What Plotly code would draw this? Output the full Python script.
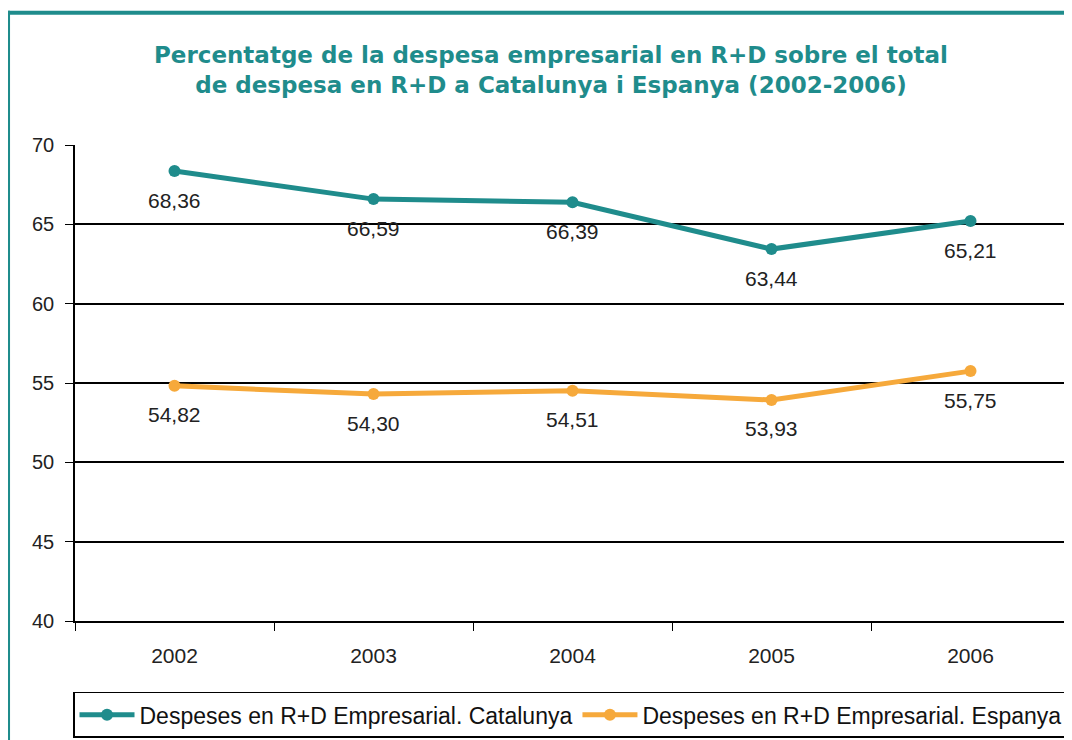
import plotly.graph_objects as go

years = ["2002", "2003", "2004", "2005", "2006"]
catalunya = [68.36, 66.59, 66.39, 63.44, 65.21]
espanya = [54.82, 54.30, 54.51, 53.93, 55.75]
name_cat = "Despeses en R+D Empresarial. Catalunya"
name_esp = "Despeses en R+D Empresarial. Espanya"
title_text = "Percentatge de la despesa empresarial en R+D sobre el total<br>de despesa en R+D a Catalunya i Espanya (2002-2006)"
yticks = [40, 45, 50, 55, 60, 65, 70]

TEAL = "#1f8c8c"
ORANGE = "#f6a93b"
FONT = "Liberation Sans, Arial"

fig = go.Figure()
fig.add_trace(go.Scatter(x=years, y=catalunya, name=name_cat, mode="lines+markers",
                         line=dict(color=TEAL, width=5), marker=dict(size=12, color=TEAL)))
fig.add_trace(go.Scatter(x=years, y=espanya, name=name_esp, mode="lines+markers",
                         line=dict(color=ORANGE, width=5), marker=dict(size=12, color=ORANGE)))

def fmt(v):
    return f"{v:.2f}".replace(".", ",")

for series in (catalunya, espanya):
    for i, v in enumerate(series):
        fig.add_annotation(x=i, y=v, xref="x", yref="y", text=fmt(v), showarrow=False, yshift=-29,
                           font=dict(family=FONT, size=21, color="#222222"))

fig.update_layout(
    width=1072, height=740,
    paper_bgcolor="white", plot_bgcolor="white",
    margin=dict(l=67, r=10, t=137, b=125),
    title=dict(text=title_text, x=0.5065, xref="container", xanchor="center",
               y=0.926, yanchor="middle",
               font=dict(family="DejaVu Sans", size=23, color=TEAL, weight="bold")),
    showlegend=True,
    legend=dict(orientation="h", x=0.498, xanchor="center", y=-0.197, yanchor="middle",
                bordercolor="black", borderwidth=1.5, bgcolor="white",
                font=dict(family=FONT, size=23, color="#111111"),
                itemwidth=55, tracegroupgap=0),
    xaxis=dict(type="category", range=[-0.5, 4.5], showgrid=False, showline=True, linecolor="black", linewidth=1.5,
               ticks="outside", tickson="boundaries", ticklen=8, tickcolor="black",
               tickfont=dict(family=FONT, size=21, color="#222222"),
               ticklabelstandoff=15),
    yaxis=dict(range=[40, 70], tickvals=yticks, showgrid=True, gridcolor="black", gridwidth=1.5,
               showline=True, linecolor="black", linewidth=1.5, ticks="outside", ticklen=8, tickcolor="black",
               zeroline=False, ticklabelstandoff=7,
               tickfont=dict(family=FONT, size=20, color="#222222")),
    shapes=[
        dict(type="line", xref="paper", yref="paper", x0=-0.0673, x1=1.02, y0=1.278, y1=1.278,
             line=dict(color=TEAL, width=4)),
        dict(type="line", xref="paper", yref="paper", x0=-0.0673, x1=-0.0673, y0=1.282, y1=-0.3,
             line=dict(color=TEAL, width=4)),
    ],
)

fig.write_html("out.html")
